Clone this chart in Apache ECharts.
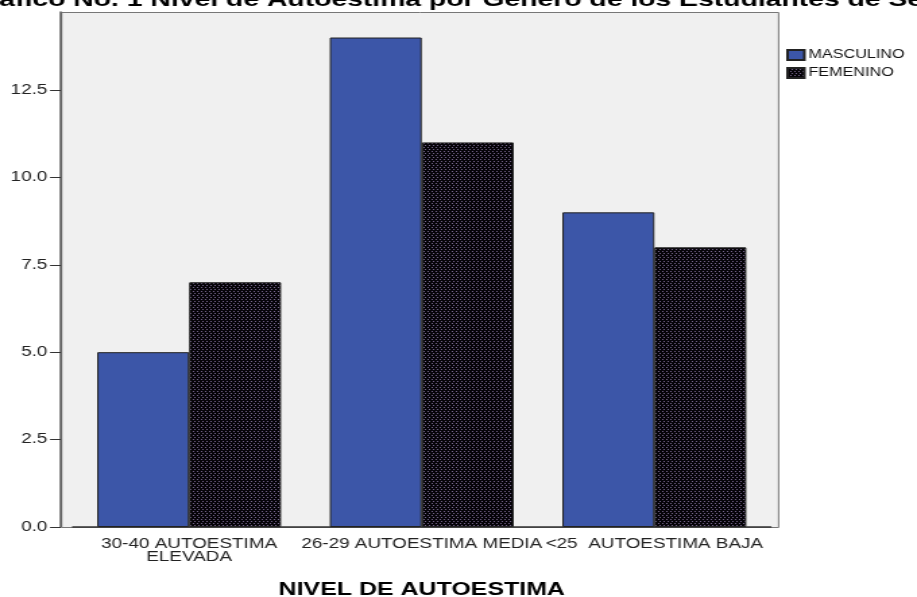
<!DOCTYPE html>
<html>
<head>
<meta charset="utf-8">
<title>Nivel de Autoestima</title>
<script src="https://cdn.jsdelivr.net/npm/echarts@6/dist/echarts.min.js"></script>
<style>
  html, body { margin: 0; padding: 0; background: #fff; overflow: hidden; }
  /* el grafico original esta estirado en horizontal, se dibuja angosto y se estira */
  #main { width: 680px; height: 597px; transform: scaleX(1.3485); transform-origin: 0 0; }
</style>
</head>
<body>
<div id="main"></div>
<script type="text/javascript">
    // datos
    var categorias = ['30-40 AUTOESTIMA\nELEVADA', '26-29 AUTOESTIMA MEDIA', '<25  AUTOESTIMA BAJA'];
    var masculino = [5, 14, 9];
    var femenino = [7, 11, 8];
    var series_nombres = ['MASCULINO', 'FEMENINO'];

    // trama de puntos para FEMENINO
    var pat = document.createElement('canvas');
    pat.width = 3; pat.height = 4;
    var ctx = pat.getContext('2d');
    ctx.fillStyle = '#060409';
    ctx.fillRect(0, 0, 3, 4);
    ctx.fillStyle = '#75658a';
    ctx.fillRect(0, 1, 1, 1);
    ctx.fillRect(2, 3, 1, 1);

    var fuente = '"Liberation Sans", Arial, sans-serif';
    var myChart = echarts.init(document.getElementById('main'));
    var option = {
        animation: false,
        textStyle: { fontFamily: fuente },
        title: {
            text: 'Gráfico No. 1 Nivel de Autoestima por Genero de los Estudiantes de Secundaria',
            left: -25,
            top: -10,
            padding: 0,
            textStyle: { fontSize: 21, fontWeight: 'bold', color: '#000', fontFamily: fuente }
        },
        graphic: [{
            type: 'rect',
            left: 45.2, top: 12,
            shape: { width: 531.7, height: 515 },
            style: { fill: '#f0f0f0', stroke: '#777', lineWidth: 1 },
            z: -10
        }],
        legend: {
            orient: 'vertical',
            left: 583,
            top: 49,
            icon: 'rect',
            itemWidth: 12.5,
            itemHeight: 10,
            itemGap: 6,
            padding: 0,
            data: series_nombres,
            textStyle: { fontSize: 12, color: '#111', padding: [0, 0, 0, -2] }
        },
        grid: {
            left: 54,
            right: 108.5,
            top: 12,
            bottom: 70,
            containLabel: false,
            outerBoundsMode: 'none'
        },
        xAxis: {
            type: 'category',
            data: categorias,
            name: 'NIVEL DE AUTOESTIMA',
            nameLocation: 'middle',
            nameGap: 53,
            nameTextStyle: { fontSize: 18.5, fontWeight: 'bold', color: '#000', verticalAlign: 'top' },
            axisLine: { lineStyle: { color: '#333', width: 1.5 } },
            axisTick: { alignWithLabel: true, length: 8, lineStyle: { color: '#333' } },
            axisLabel: { interval: 0, hideOverlap: false, fontSize: 14, color: '#222', lineHeight: 13, margin: 11 }
        },
        yAxis: {
            type: 'value',
            min: 0,
            max: 14.73,
            interval: 2.5,
            offset: 8.9,
            splitLine: { show: false },
            axisLine: { show: true, lineStyle: { color: '#555', width: 1.5 } },
            axisTick: { show: true, length: 8, lineStyle: { color: '#333' } },
            axisLabel: {
                fontSize: 14, color: '#222', margin: 10, showMaxLabel: false,
                formatter: function (v) { return v.toFixed(1); }
            }
        },
        series: [{
            name: series_nombres[0],
            type: 'bar',
            data: masculino,
            barWidth: 68.2,
            barGap: '0%',
            itemStyle: { color: '#3c56a8', borderColor: '#222', borderWidth: 1 }
        }, {
            name: series_nombres[1],
            type: 'bar',
            data: femenino,
            barWidth: 68.2,
            barGap: '0%',
            itemStyle: { color: { image: pat, repeat: 'repeat' }, borderColor: '#222', borderWidth: 1 }
        }]
    };
    myChart.setOption(option);
</script>
</body>
</html>
